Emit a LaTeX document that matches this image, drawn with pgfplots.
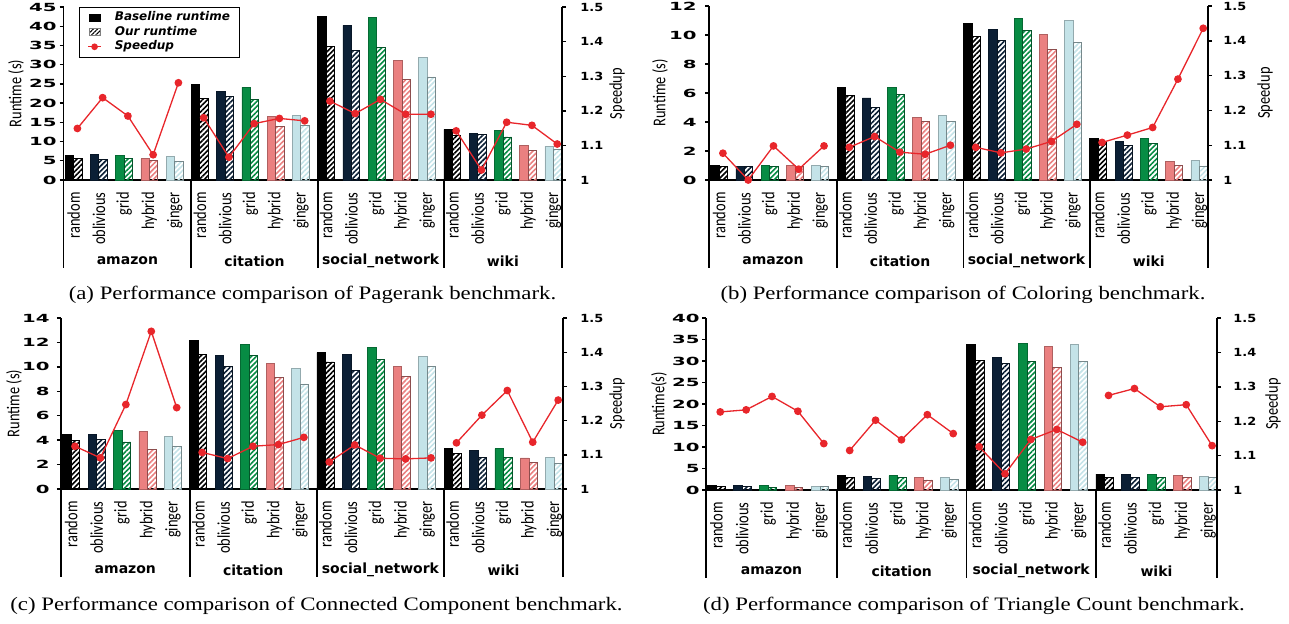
\documentclass[border=0pt]{standalone}
\usepackage{pgfplots}
\pgfplotsset{compat=1.18}
\usepackage{fontspec}
\usetikzlibrary{patterns.meta}
\setmainfont{Liberation Serif}
\newfontfamily\dejavu{DejaVu Sans}
\newfontfamily\carlito{Carlito}
\newcommand\fs[1]{\fontsize{#1}{#1}\selectfont}
\newcommand\cl[1]{\scalebox{1}[1.25]{#1}}
\definecolor{cR}{HTML}{000000}
\definecolor{cO}{HTML}{0B1F35}
\definecolor{cG}{HTML}{078C44}
\definecolor{cH}{HTML}{EA8080}
\definecolor{cI}{HTML}{C4E3E8}
\definecolor{spd}{HTML}{E8262B}
\pgfplotsset{
  barax/.style={scale only axis, xmin=-0.40, xmax=19.34, ymin=0, clip=false,
    axis x line*=bottom, axis y line*=left,
    axis line style={line width=0.9pt, black},
    xtick={0,...,19},
    xticklabels={\cl{random},\cl{oblivious},\cl{grid},\cl{hybrid},\cl{ginger},\cl{random},\cl{oblivious},\cl{grid},\cl{hybrid},\cl{ginger},\cl{random},\cl{oblivious},\cl{grid},\cl{hybrid},\cl{ginger},\cl{random},\cl{oblivious},\cl{grid},\cl{hybrid},\cl{ginger}},
    xtick style={draw=none},
    xticklabel style={rotate=90, anchor=east, inner sep=0pt, font=\carlito\fs{7.2pt}},
    xticklabel shift=4pt,
    ytick style={line width=0.7pt, black}, tick align=outside, major tick length=2pt,
    yticklabel style={font=\dejavu\bfseries\fs{5.6pt}, inner sep=0pt},
    yticklabel={\scalebox{1.76}[1]{\pgfmathprintnumber[assume math mode=true]{\tick}}},
  },
  spax/.style={scale only axis, xmin=-0.40, xmax=19.34, ymin=1, ymax=1.5,
    axis x line=none, axis y line*=right, axis line style={line width=0.9pt, black},
    ytick={1,1.1,1.2,1.3,1.4,1.5}, tick align=outside, major tick length=2pt,
    ytick style={line width=0.7pt, black},
    yticklabel style={font=\dejavu\bfseries\fs{5.6pt}, inner sep=0pt},
    yticklabel={\scalebox{1.15}[1]{\pgfmathprintnumber[assume math mode=true]{\tick}}},
  },
  sp/.style={spd, line width=0.65pt, mark=*, mark size=1.6pt, mark options={solid, fill=spd, draw=spd}},
}
\newcommand\bb[3]{%
 \addplot[ybar, bar width=0.335, bar shift=-0.1675, fill=#1, draw=#1!75!black, line width=0.4pt] coordinates {#2};
 \addplot[ybar, bar width=0.335, bar shift=0.1675, pattern={Lines[angle=45,distance=1.8pt,line width=0.8pt]}, pattern color=#1, draw=#1!60!black, line width=0.4pt] coordinates {#3};}
\newcommand\seps{%
 \draw[line width=0.9pt] (axis cs:-0.40,0) -- ++(0pt,-44pt);
 \draw[line width=0.9pt] (axis cs:4.6635,0) -- ++(0pt,-44pt);
 \draw[line width=0.9pt] (axis cs:9.6635,0) -- ++(0pt,-44pt);
 \draw[line width=0.9pt] (axis cs:14.6635,0) -- ++(0pt,-44pt);
 \draw[line width=0.9pt] (axis cs:19.34,0) -- ++(0pt,-44pt);
 \node[font=\dejavu\bfseries\fs{7pt}] at ([yshift=-40.5pt]axis cs:2.13,0) {amazon};
 \node[font=\dejavu\bfseries\fs{7pt}] at ([yshift=-40.5pt]axis cs:7.16,0) {citation};
 \node[font=\dejavu\bfseries\fs{7pt}] at ([yshift=-40.5pt]axis cs:12.16,0) {social\_network};
 \node[font=\dejavu\bfseries\fs{7pt}] at ([yshift=-40.5pt]axis cs:17.0,0) {wiki};}
\begin{document}
\begin{tikzpicture}
\useasboundingbox (0,0) rectangle (644.5pt,-311.5pt);
% ---------------- (a)
\begin{axis}[barax, at={(31.75pt,-90pt)}, anchor=south west, width=249.25pt, height=86.5pt, ymax=45, ytick distance=5, yticklabel style={xshift=-1.25pt}]
\bb{cR}{(0,6.3)(5,24.9)(10,42.6)(15,13.2)}{(0,5.6)(5,21.1)(10,34.8)(15,11.7)}
\bb{cO}{(1,6.6)(6,23.1)(11,40.2)(16,12.2)}{(1,5.4)(6,21.7)(11,33.7)(16,11.9)}
\bb{cG}{(2,6.5)(7,24.1)(12,42.3)(17,12.8)}{(2,5.6)(7,20.9)(12,34.4)(17,11.2)}
\bb{cH}{(3,5.5)(8,16.5)(13,31.1)(18,9.0)}{(3,5.1)(8,14.0)(13,26.1)(18,7.6)}
\bb{cI}{(4,6.2)(9,16.8)(14,31.8)(19,8.8)}{(4,4.8)(9,14.3)(14,26.8)(19,8.0)}
\seps
\end{axis}
\begin{axis}[spax, at={(31.75pt,-90pt)}, anchor=south west, width=249.25pt, height=86.5pt, yticklabel style={xshift=7pt},
  legend style={at={(rel axis cs:0.031,1)}, anchor=north west, draw=black, line width=0.5pt, fill=white,
    font=\dejavu\bfseries\itshape\fs{6pt}, inner xsep=4pt, inner ysep=1.5pt, row sep=0pt,
    nodes={inner sep=0.6pt}, /tikz/every odd column/.append style={column sep=6pt}},
  legend cell align=left]
\addlegendimage{legend image code/.code={\draw[fill=black,draw=black] (0pt,-1.75pt) rectangle (5.5pt,1.75pt);}}
\addlegendimage{legend image code/.code={\draw[pattern={Lines[angle=45,distance=1.5pt,line width=0.6pt]},pattern color=black,draw=gray] (0pt,-1.75pt) rectangle (5.5pt,1.75pt);}}
\addlegendimage{legend image code/.code={\draw[spd,line width=0.6pt] (-0.5pt,0) -- (6pt,0); \fill[spd] (2.75pt,0) circle (1.4pt);}}
\addplot[sp] coordinates {(0.15,1.149)(1.15,1.238)(2.15,1.185)(3.15,1.073)(4.15,1.281)};
\addplot[sp] coordinates {(5.15,1.180)(6.15,1.066)(7.15,1.163)(8.15,1.178)(9.15,1.171)};
\addplot[sp] coordinates {(10.15,1.228)(11.15,1.192)(12.15,1.233)(13.15,1.190)(14.15,1.190)};
\addplot[sp] coordinates {(15.15,1.142)(16.15,1.029)(17.15,1.167)(18.15,1.158)(19.15,1.104)};
\legend{Baseline runtime, Our runtime, Speedup}
\end{axis}
% ---------------- (b)
\begin{axis}[barax, at={(354.5pt,-90pt)}, anchor=south west, width=249.5pt, height=87pt, ymax=12, ytick distance=2, yticklabel style={xshift=-4pt}]
\bb{cR}{(0,1.03)(5,6.39)(10,10.8)(15,2.87)}{(0,0.94)(5,5.86)(10,9.93)(15,2.57)}
\bb{cO}{(1,0.92)(6,5.66)(11,10.39)(16,2.64)}{(1,0.93)(6,5.03)(11,9.61)(16,2.37)}
\bb{cG}{(2,1.01)(7,6.39)(12,11.15)(17,2.87)}{(2,0.94)(7,5.93)(12,10.3)(17,2.51)}
\bb{cH}{(3,1.01)(8,4.32)(13,10.02)(18,1.26)}{(3,0.97)(8,4.02)(13,9.03)(18,0.99)}
\bb{cI}{(4,1.01)(9,4.48)(14,10.99)(19,1.38)}{(4,0.92)(9,4.05)(14,9.49)(19,0.97)}
\seps
\end{axis}
\begin{axis}[spax, at={(354.5pt,-90pt)}, anchor=south west, width=249.5pt, height=87pt, yticklabel style={xshift=5.5pt}]
\addplot[sp] coordinates {(0.15,1.077)(1.15,1.0)(2.15,1.098)(3.15,1.031)(4.15,1.098)};
\addplot[sp] coordinates {(5.15,1.094)(6.15,1.125)(7.15,1.080)(8.15,1.074)(9.15,1.100)};
\addplot[sp] coordinates {(10.15,1.094)(11.15,1.078)(12.15,1.089)(13.15,1.111)(14.15,1.160)};
\addplot[sp] coordinates {(15.15,1.108)(16.15,1.129)(17.15,1.151)(18.15,1.290)(19.15,1.436)};
\end{axis}
% ---------------- (c)
\begin{axis}[barax, at={(30.5pt,-244.5pt)}, anchor=south west, width=251pt, height=85.5pt, ymax=14, ytick distance=2, yticklabel style={xshift=-3.5pt}]
\bb{cR}{(0,4.45)(5,12.15)(10,11.16)(15,3.3)}{(0,3.96)(5,11.0)(10,10.4)(15,2.89)}
\bb{cO}{(1,4.5)(6,10.92)(11,11.0)(16,3.14)}{(1,4.09)(6,10.02)(11,9.74)(16,2.57)}
\bb{cG}{(2,4.78)(7,11.85)(12,11.6)(17,3.3)}{(2,3.85)(7,10.94)(12,10.64)(17,2.57)}
\bb{cH}{(3,4.72)(8,10.26)(13,10.02)(18,2.54)}{(3,3.25)(8,9.14)(13,9.22)(18,2.21)}
\bb{cI}{(4,4.31)(9,9.85)(14,10.86)(19,2.62)}{(4,3.49)(9,8.6)(14,10.02)(19,2.07)}
\seps
\end{axis}
\begin{axis}[spax, at={(30.5pt,-244.5pt)}, anchor=south west, width=251pt, height=85.5pt, yticklabel style={xshift=6.5pt}]
\addplot[sp] coordinates {(0.15,1.125)(1.15,1.091)(2.15,1.247)(3.15,1.461)(4.15,1.238)};
\addplot[sp] coordinates {(5.15,1.107)(6.15,1.089)(7.15,1.125)(8.15,1.130)(9.15,1.151)};
\addplot[sp] coordinates {(10.15,1.079)(11.15,1.129)(12.15,1.090)(13.15,1.088)(14.15,1.091)};
\addplot[sp] coordinates {(15.15,1.135)(16.15,1.216)(17.15,1.288)(18.15,1.137)(19.15,1.260)};
\end{axis}
% ---------------- (d)
\begin{axis}[barax, at={(353pt,-245pt)}, anchor=south west, width=255.5pt, height=86pt, ymax=40, ytick distance=5, yticklabel style={xshift=-1pt}]
\bb{cR}{(0,1.0)(5,3.33)(10,33.9)(15,3.7)}{(0,0.78)(5,3.0)(10,30.1)(15,3.0)}
\bb{cO}{(1,1.0)(6,3.1)(11,30.9)(16,3.7)}{(1,0.75)(6,2.64)(11,29.5)(16,2.95)}
\bb{cG}{(2,1.0)(7,3.33)(12,34.1)(17,3.6)}{(2,0.7)(7,3.02)(12,29.8)(17,3.0)}
\bb{cH}{(3,1.0)(8,2.87)(13,33.3)(18,3.3)}{(3,0.7)(8,2.33)(13,28.5)(18,2.87)}
\bb{cI}{(4,0.75)(9,2.87)(14,33.8)(19,3.1)}{(4,0.8)(9,2.48)(14,29.8)(19,2.87)}
\seps
\end{axis}
\begin{axis}[spax, at={(353pt,-245pt)}, anchor=south west, width=255.5pt, height=86pt, yticklabel style={xshift=6pt}]
\addplot[sp] coordinates {(0.15,1.227)(1.15,1.233)(2.15,1.272)(3.15,1.229)(4.15,1.135)};
\addplot[sp] coordinates {(5.15,1.115)(6.15,1.203)(7.15,1.146)(8.15,1.219)(9.15,1.164)};
\addplot[sp] coordinates {(10.15,1.126)(11.15,1.047)(12.15,1.147)(13.15,1.176)(14.15,1.139)};
\addplot[sp] coordinates {(15.15,1.275)(16.15,1.295)(17.15,1.242)(18.15,1.248)(19.15,1.129)};
\end{axis}
% ---------------- titles
\node[rotate=90, font=\carlito\fs{7.2pt}] at (8pt,-46.75pt) {\cl{Runtime (s)}};
\node[rotate=90, font=\carlito\fs{7.2pt}] at (330pt,-46.5pt) {\cl{Runtime (s)}};
\node[rotate=90, font=\carlito\fs{7.2pt}] at (7pt,-201.75pt) {\cl{Runtime (s)}};
\node[rotate=90, font=\carlito\fs{7.2pt}] at (329.5pt,-202pt) {\cl{Runtime(s)}};
\node[rotate=90, font=\carlito\fs{7.2pt}] at (308.5pt,-46.75pt) {\cl{Speedup}};
\node[rotate=90, font=\carlito\fs{7.2pt}] at (632.5pt,-46.5pt) {\cl{Speedup}};
\node[rotate=90, font=\carlito\fs{7.2pt}] at (308.5pt,-201.75pt) {\cl{Speedup}};
\node[rotate=90, font=\carlito\fs{7.2pt}] at (636.5pt,-202pt) {\cl{Speedup}};
% ---------------- captions
\node[font=\fs{9.5pt}] at (156.25pt,-147.5pt) {\scalebox{1.2}[1]{(a) Performance comparison of Pagerank benchmark.}};
\node[font=\fs{9.5pt}] at (481.5pt,-147.5pt) {\scalebox{1.2}[1]{(b) Performance comparison of Coloring benchmark.}};
\node[font=\fs{9.5pt}] at (158.25pt,-303pt) {\scalebox{1.2}[1]{(c) Performance comparison of Connected Component benchmark.}};
\node[font=\fs{9.5pt}] at (487pt,-303pt) {\scalebox{1.2}[1]{(d) Performance comparison of Triangle Count benchmark.}};
\end{tikzpicture}
\end{document}
